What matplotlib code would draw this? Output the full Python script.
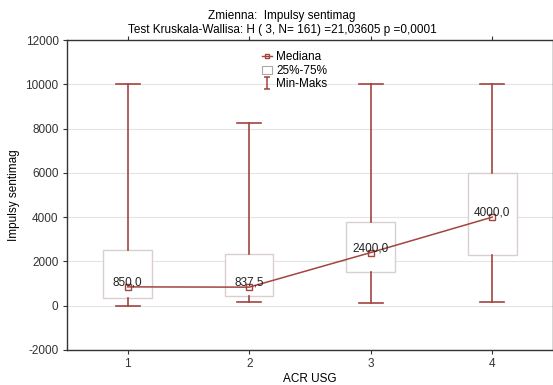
import numpy as np
import matplotlib.pyplot as plt
from matplotlib.lines import Line2D
from matplotlib.patches import Rectangle
from matplotlib.path import Path

plt.rcParams['font.family'] = ['Liberation Sans', 'DejaVu Sans']
plt.rcParams['axes.unicode_minus'] = False

groups = [1, 2, 3, 4]
medians = [850.0, 837.5, 2400.0, 4000.0]
q25 = [350, 450, 1500, 2300]
q75 = [2500, 2350, 3800, 6000]
mins = [0, 150, 100, 150]
maxs = [10000, 8250, 10000, 10000]
median_labels = ['850,0', '837,5', '2400,0', '4000,0']

line_col = '#a3443f'
box_col = '#d9cfcf'

fig = plt.figure(figsize=(5.53, 3.85), dpi=100)
ax = fig.add_axes([0.121, 0.091, 0.879, 0.805])

box_w = 0.4
cap_w = 0.2
for g, lo, hi, mn, mx in zip(groups, q25, q75, mins, maxs):
    ax.add_patch(Rectangle((g - box_w / 2, lo), box_w, hi - lo, facecolor='white',
                           edgecolor=box_col, lw=1.0, zorder=2))
    ax.plot([g, g], [mn, lo], color=line_col, lw=1.2, zorder=3)
    ax.plot([g, g], [hi, mx], color=line_col, lw=1.2, zorder=3)
    ax.plot([g - cap_w / 2, g + cap_w / 2], [mn, mn], color=line_col, lw=1.2, zorder=3)
    ax.plot([g - cap_w / 2, g + cap_w / 2], [mx, mx], color=line_col, lw=1.2, zorder=3)

ax.plot(groups, medians, color=line_col, lw=1.1, marker='s', ms=4, mfc='none',
        mec=line_col, mew=1.0, zorder=4)
for g, m, lab in zip(groups, medians, median_labels):
    ax.text(g, m + 60, lab, ha='center', va='baseline', fontsize=8.5, color='#222222', zorder=5)

ax.set_xlim(0.5, 4.5)
ax.set_ylim(-2000, 12000)
ax.set_xticks(groups)
ax.set_yticks(np.arange(-2000, 12001, 2000))
ax.yaxis.grid(True, color='#e4e4e4', lw=0.8)
ax.set_axisbelow(True)
ax.tick_params(labelsize=8.5, length=3, colors='#333333', top=True, right=True, pad=3)
for s in ax.spines.values():
    s.set_color('#333333')
    s.set_linewidth(1.0)

ax.set_xlabel('ACR USG', fontsize=8.5, labelpad=2)
ax.set_ylabel('Impulsy sentimag', fontsize=8.5, labelpad=4)
fig.text(0.51, 0.958, 'Zmienna:  Impulsy sentimag', ha='center', va='center', fontsize=8.5)
fig.text(0.51, 0.922, 'Test Kruskala-Wallisa: H ( 3, N= 161) =21,03605 p =0,0001',
         ha='center', va='center', fontsize=8.5)

ibeam = Path([(-0.5, 1), (0.5, 1), (0, 1), (0, -1), (-0.5, -1), (0.5, -1)],
             [Path.MOVETO, Path.LINETO, Path.MOVETO, Path.LINETO, Path.MOVETO, Path.LINETO])
handles = [
    Line2D([], [], color=line_col, lw=1, marker='s', ms=3.5, mfc='none', mec=line_col),
    Rectangle((0, 0), 1, 1, facecolor='white', edgecolor='#aaaaaa', lw=0.8),
    Line2D([], [], color=line_col, lw=0, marker=ibeam, ms=9, mew=1.1, mec=line_col),
]
ax.legend(handles, ['Mediana', '25%-75%', 'Min-Maks'], loc='upper left',
          bbox_to_anchor=(0.385, 0.99), frameon=False, fontsize=8.5,
          handlelength=0.8, handletextpad=0.4, labelspacing=0.12, borderaxespad=0.3)

fig.savefig('out.png', dpi=100)
